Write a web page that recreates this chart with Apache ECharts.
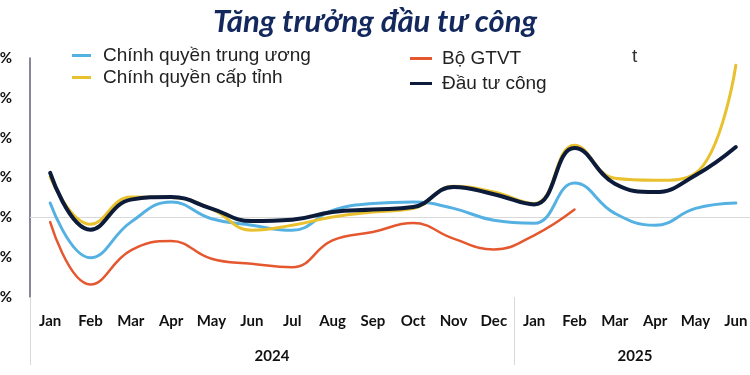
<!DOCTYPE html>
<html>
<head>
<meta charset="utf-8">
<script src="https://cdn.jsdelivr.net/npm/echarts@6/dist/echarts.min.js"></script>
<style>
html,body{margin:0;padding:0;background:#fff;}
#chart{width:750px;height:375px;}
</style>
</head>
<body>
<div id="chart"></div>
<script>
var months = ['Jan','Feb','Mar','Apr','May','Jun','Jul','Aug','Sep','Oct','Nov','Dec','Jan','Feb','Mar','Apr','May','Jun'];
var years = ['2024','2025'];
var yearSpan = [12, 6];
var yTicks = [80, 60, 40, 20, 0, -20, -40];

var trungUong = [7.2, -20.3, -2.4, 7.7, -0.7, -4.0, -6.5, 3.5, 6.9, 7.7, 4.5, -1.5, -3.0, 17.2, 2.0, -4.0, 4.5, 7.2];
var capTinh   = [20.3, -3.5, 10.2, 10.0, 4.3, -6.5, -4.0, 0.2, 2.7, 4.4, 15.6, 12.7, 7.0, 36.2, 19.6, 18.6, 22.1, 76.4];
var boGTVT    = [-2.4, -33.7, -16.6, -11.9, -20.8, -23.3, -25.0, -11.6, -7.4, -2.9, -10.7, -16.1, -9.0, 3.9, null, null, null, null];
var dauTuCong = [22.3, -6.2, 8.9, 10.2, 4.4, -1.9, -1.2, 2.7, 3.9, 5.2, 15.2, 11.6, 6.5, 34.8, 16.9, 12.7, 21.1, 35.3];

var names = ['Chính quyền trung ương', 'Chính quyền cấp tỉnh', 'Bộ GTVT', 'Đầu tư công'];
var colors = ['#55b1e2', '#e9c12e', '#e5582f', '#0c1b3a'];

var chart = echarts.init(document.getElementById('chart'));

var yearCenters = {};
var acc = 0;
for (var i = 0; i < years.length; i++) { yearCenters[acc + yearSpan[i] / 2] = years[i]; acc += yearSpan[i]; }
var boundaries = {};
acc = 0;
for (var j = 0; j < yearSpan.length; j++) { boundaries[acc] = true; acc += yearSpan[j]; }

function mkSeries(idx, data, width, z) {
  return {
    name: names[idx], type: 'line', data: data, smooth: 0.45,
    showSymbol: false, symbol: 'none', connectNulls: false,
    lineStyle: { color: colors[idx], width: width, cap: 'round', join: 'round' },
    itemStyle: { color: colors[idx] }, z: z
  };
}

var s0 = mkSeries(0, trungUong, 3, 3);
s0.markLine = {
  silent: true, symbol: ['none', 'none'], label: { show: false },
  lineStyle: { color: '#d9d9d9', width: 1, type: 'solid' },
  data: [{ yAxis: 0 }], z: 1
};

var legendText = { fontFamily: 'Liberation Sans', fontSize: 19, color: '#222', lineHeight: 21 };

var option = {
  backgroundColor: '#ffffff',
  animation: false,
  title: {
    text: 'Tăng trưởng đầu tư công', left: 'center', top: 1,
    textStyle: { fontFamily: 'Lato', fontStyle: 'italic', fontWeight: 'bold', fontSize: 31, color: '#13285c' }
  },
  legend: [
    {
      data: [names[0], names[1]], orient: 'vertical', left: 67, top: 40,
      icon: 'rect', itemWidth: 19, itemHeight: 3, itemGap: 1,
      textStyle: Object.assign({ padding: [0, 0, 0, 7] }, legendText)
    },
    {
      data: [names[2], names[3]], orient: 'vertical', left: 405, top: 43,
      icon: 'rect', itemWidth: 22, itemHeight: 3, itemGap: 4,
      textStyle: Object.assign({ padding: [0, 0, 0, 5] }, legendText)
    }
  ],
  graphic: [
    { type: 'text', left: 632, top: 47, style: { text: 't', font: '19px "Liberation Sans"', fill: '#333' } }
  ],
  grid: { left: 30, right: -6, top: 58, bottom: 78, containLabel: false, outerBoundsMode: 'none' },
  xAxis: [
    {
      type: 'category', data: months, boundaryGap: true, position: 'bottom',
      axisLine: { show: false, onZero: false },
      axisTick: {
        show: true, length: 68, inside: false,
        interval: function (index) { return !!boundaries[index]; },
        lineStyle: { color: '#d9d9d9', width: 1 }
      },
      axisLabel: { interval: 0, margin: 17, fontFamily: 'Lato', fontWeight: 'bold', fontSize: 15, color: '#111' },
      splitLine: { show: false }
    },
    {
      type: 'value', min: 0, max: 18, interval: 1.5, position: 'bottom',
      axisLine: { show: false, onZero: false }, axisTick: { show: false }, splitLine: { show: false },
      axisLabel: {
        margin: 52, fontFamily: 'Lato', fontWeight: 'bold', fontSize: 15, color: '#111',
        showMinLabel: true, showMaxLabel: true,
        formatter: function (v) { return yearCenters[v] || ''; }
      }
    }
  ],
  yAxis: {
    type: 'value', min: yTicks[yTicks.length - 1], max: yTicks[0], interval: 20,
    axisLine: { show: true, lineStyle: { color: '#5f5f7a', width: 1.5 } },
    axisTick: { show: false },
    splitLine: { show: false },
    axisLabel: { margin: 18, fontFamily: 'Lato', fontWeight: 'bold', fontSize: 15, color: '#111',
      formatter: function (v) { return v + '%'; } }
  },
  series: [
    s0,
    mkSeries(2, boGTVT, 2.5, 4),
    mkSeries(1, capTinh, 3, 5),
    mkSeries(3, dauTuCong, 4, 6)
  ]
};
chart.setOption(option);
</script>
</body>
</html>
